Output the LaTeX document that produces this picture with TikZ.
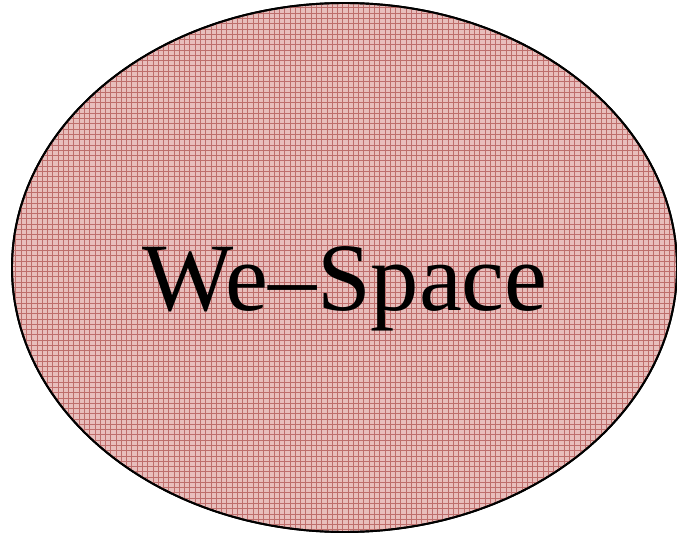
\documentclass[tikz,border=0pt]{standalone}
\usepackage{fontspec}
\setmainfont{Liberation Serif}
\usetikzlibrary{shapes.geometric,patterns}
\definecolor{wefill}{RGB}{232,190,188}
\definecolor{wegrid}{RGB}{190,110,108}

\begin{document}
\begin{tikzpicture}[
  space/.style={ellipse, draw=black, line width=1.1pt, fill=wefill,
                minimum width=13.3cm, minimum height=10.58cm, inner sep=0pt},
  grid fill/.style={ellipse, pattern=grid, pattern color=wegrid,
                minimum width=13.3cm, minimum height=10.58cm, inner sep=0pt},
  title/.style={font=\fontsize{55}{60}\selectfont, inner sep=0pt}]

\useasboundingbox (0,0) rectangle (13.54,10.7);
\clip (0,0) rectangle (13.54,10.7);

\node[space] (we) at (6.89,5.35) {};
\node[grid fill] (wegrid) at (we.center) {};
\draw[line width=1.1pt] (we.center) ellipse (6.65cm and 5.29cm);
\node[title, anchor=base] (wetext) at (6.9,4.5) {We--Space};
\end{tikzpicture}
\end{document}
